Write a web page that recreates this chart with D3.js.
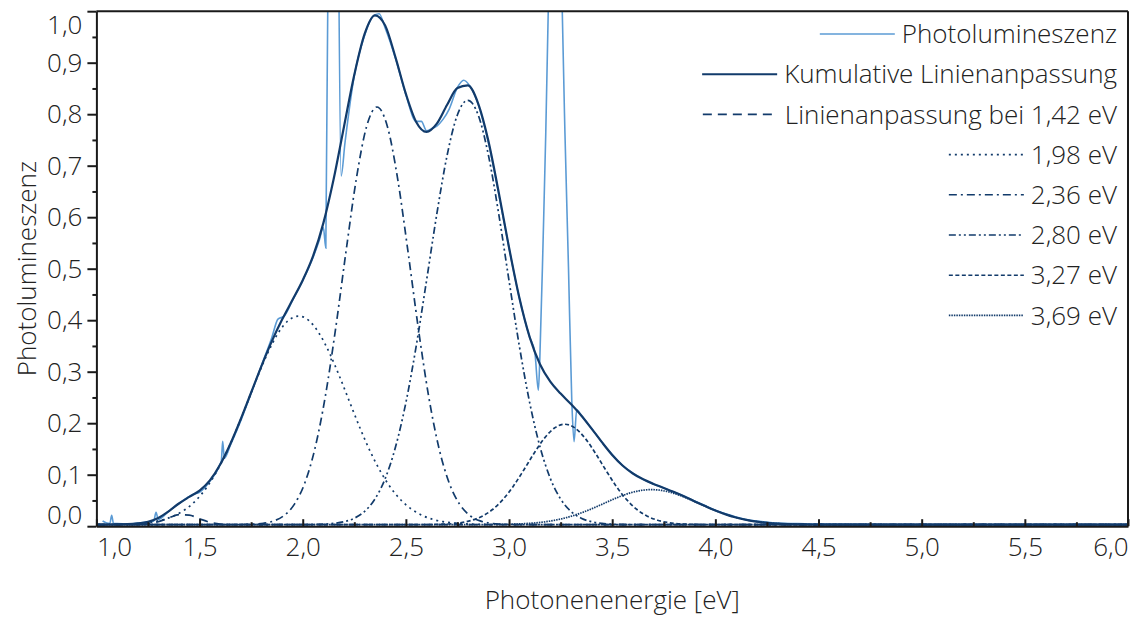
<!DOCTYPE html>
<html><head><meta charset="utf-8">
<script src="https://cdn.jsdelivr.net/npm/d3@7"></script>
<style>
html,body{margin:0;padding:0;background:#fff;}
svg text{font-family:"Open Sans","Segoe UI",sans-serif;font-weight:300;fill:#222;}
</style></head><body>
<svg id="chart" width="1134" height="617"></svg>
<script>
// ---------- data ----------
const xTicks = [1.0, 1.5, 2.0, 2.5, 3.0, 3.5, 4.0, 4.5, 5.0, 5.5, 6.0];
const xTickLabels = ["1,0","1,5","2,0","2,5","3,0","3,5","4,0","4,5","5,0","5,5","6,0"];
const xMinorTicks = [1.25, 1.75, 2.25, 2.75, 3.25, 3.75, 4.25, 4.75, 5.25, 5.75];
const yTicks = [0.0, 0.1, 0.2, 0.3, 0.4, 0.5, 0.6, 0.7, 0.8, 0.9, 1.0];
const yTickLabels = ["0,0","0,1","0,2","0,3","0,4","0,5","0,6","0,7","0,8","0,9","1,0"];
const yMinorTicks = [0.05, 0.15, 0.25, 0.35, 0.45, 0.55, 0.65, 0.75, 0.85, 0.95];
const xTitle = "Photonenenergie [eV]";
const yTitle = "Photolumineszenz";
const legendLabels = ["Photolumineszenz", "Kumulative Linienanpassung", "Linienanpassung bei 1,42 eV",
  "1,98 eV", "2,36 eV", "2,80 eV", "3,27 eV", "3,69 eV"];

// measured photoluminescence [eV, intensity]
const photolumineszenz = [[1.03,0.010],[1.05,0.006],[1.065,0.005],[1.074,0.021],[1.083,0.005],[1.10,0.005],[1.15,0.004],[1.20,0.006],[1.25,0.008],[1.278,0.010],[1.289,0.027],[1.30,0.013],[1.35,0.029],[1.40,0.044],[1.45,0.058],[1.47,0.062],[1.50,0.066],[1.55,0.087],[1.60,0.121],[1.606,0.128],[1.612,0.165],[1.62,0.132],[1.65,0.158],[1.70,0.205],[1.75,0.258],[1.80,0.312],[1.85,0.366],[1.88,0.402],[1.91,0.408],[1.95,0.438],[2.00,0.477],[2.05,0.522],[2.08,0.555],[2.10,0.58],[2.112,0.54],[2.13,1.5],[2.147,1.7],[2.165,1.5],[2.186,0.68],[2.205,0.745],[2.25,0.875],[2.30,0.953],[2.34,0.99],[2.37,0.995],[2.40,0.967],[2.45,0.908],[2.50,0.838],[2.55,0.786],[2.575,0.786],[2.60,0.768],[2.625,0.772],[2.65,0.777],[2.68,0.79],[2.71,0.81],[2.75,0.852],[2.78,0.866],[2.81,0.855],[2.85,0.82],[2.90,0.745],[2.95,0.645],[3.00,0.54],[3.05,0.443],[3.10,0.367],[3.125,0.338],[3.142,0.264],[3.149,0.322],[3.166,0.569],[3.178,0.763],[3.19,1.0],[3.21,1.5],[3.24,1.5],[3.258,1.0],[3.271,0.763],[3.288,0.504],[3.304,0.245],[3.315,0.164],[3.328,0.226],[3.35,0.215],[3.40,0.19],[3.45,0.163],[3.50,0.139],[3.55,0.118],[3.60,0.103],[3.65,0.091],[3.70,0.082],[3.75,0.074],[3.80,0.066],[3.85,0.058],[3.90,0.049],[3.95,0.040],[4.00,0.031],[4.05,0.024],[4.10,0.018],[4.15,0.013],[4.20,0.010],[4.25,0.008],[4.30,0.006],[4.40,0.005],[4.50,0.004],[5.00,0.003],[6.00,0.003]];

// cumulative fit
const kumulativ = [[1.00,0.0031],[1.05,0.0032],[1.10,0.0035],[1.15,0.0040],[1.20,0.0054],[1.25,0.0085],[1.30,0.0159],[1.35,0.0288],[1.40,0.0441],[1.45,0.0569],[1.50,0.0691],[1.55,0.0889],[1.60,0.1197],[1.65,0.1606],[1.70,0.2083],[1.75,0.2596],[1.80,0.3109],[1.85,0.3589],[1.90,0.4012],[1.95,0.4391],[2.00,0.4775],[2.05,0.5243],[2.10,0.5885],[2.15,0.6742],[2.20,0.7757],[2.25,0.8765],[2.30,0.956],[2.35,0.992],[2.40,0.972],[2.45,0.9099],[2.50,0.8395],[2.55,0.7850],[2.60,0.7656],[2.65,0.7817],[2.70,0.8184],[2.75,0.8507],[2.80,0.8559],[2.85,0.8212],[2.90,0.7480],[2.95,0.6482],[3.00,0.5411],[3.05,0.4436],[3.10,0.3672],[3.15,0.3145],[3.20,0.2806],[3.25,0.2575],[3.30,0.2372],[3.35,0.2150],[3.40,0.1895],[3.45,0.1632],[3.50,0.1384],[3.55,0.1179],[3.60,0.1024],[3.65,0.0910],[3.70,0.0821],[3.75,0.0743],[3.80,0.0662],[3.85,0.0575],[3.90,0.0482],[3.95,0.0391],[4.00,0.0304],[4.05,0.0230],[4.10,0.0169],[4.15,0.0122],[4.20,0.0088],[4.25,0.0065],[4.30,0.0050],[4.35,0.0041],[4.40,0.0036],[4.45,0.0033],[4.50,0.0031],[6.00,0.0030]];

// single peak fits
const fit142 = [[1.00,0.003],[1.15,0.003],[1.20,0.0033],[1.25,0.0045],[1.30,0.0086],[1.35,0.0159],[1.40,0.0223],[1.45,0.0215],[1.50,0.0143],[1.55,0.0075],[1.60,0.0041],[1.65,0.0032],[1.70,0.003],[6.00,0.003]];
const fit198 = [[1.00,0.003],[1.08,0.0034],[1.13,0.0038],[1.18,0.0046],[1.23,0.0061],[1.28,0.0088],[1.33,0.0133],[1.38,0.0208],[1.43,0.0323],[1.48,0.0492],[1.53,0.0728],[1.58,0.1040],[1.63,0.1428],[1.68,0.1884],[1.73,0.2384],[1.78,0.2892],[1.83,0.3361],[1.88,0.3743],[1.93,0.3993],[1.98,0.408],[2.03,0.3993],[2.08,0.3743],[2.13,0.3361],[2.18,0.2892],[2.23,0.2384],[2.28,0.1884],[2.33,0.1428],[2.38,0.1040],[2.43,0.0728],[2.48,0.0492],[2.53,0.0323],[2.58,0.0208],[2.63,0.0133],[2.68,0.0088],[2.73,0.0061],[2.78,0.0046],[2.83,0.0038],[2.88,0.0034],[3.00,0.003],[6.00,0.003]];
const fit236 = [[1.00,0.003],[1.66,0.003],[1.71,0.0033],[1.76,0.0039],[1.81,0.0057],[1.86,0.0103],[1.91,0.0209],[1.96,0.0429],[2.01,0.0838],[2.06,0.1521],[2.11,0.2532],[2.16,0.3851],[2.21,0.5340],[2.26,0.6749],[2.31,0.7767],[2.36,0.814],[2.41,0.7767],[2.46,0.6749],[2.51,0.5340],[2.56,0.3851],[2.61,0.2532],[2.66,0.1521],[2.71,0.0838],[2.76,0.0429],[2.81,0.0209],[2.86,0.0103],[2.91,0.0057],[2.96,0.0039],[3.01,0.0033],[3.06,0.003],[6.00,0.003]];
const fit280 = [[1.00,0.003],[2.00,0.003],[2.05,0.0033],[2.10,0.0039],[2.15,0.0054],[2.20,0.0086],[2.25,0.0155],[2.30,0.0288],[2.35,0.0528],[2.40,0.0928],[2.45,0.1541],[2.50,0.2399],[2.55,0.3497],[2.60,0.4766],[2.65,0.6064],[2.70,0.7205],[2.75,0.7990],[2.80,0.827],[2.85,0.7990],[2.90,0.7205],[2.95,0.6064],[3.00,0.4766],[3.05,0.3497],[3.10,0.2399],[3.15,0.1541],[3.20,0.0928],[3.25,0.0528],[3.30,0.0288],[3.35,0.0155],[3.40,0.0086],[3.45,0.0054],[3.50,0.0039],[3.55,0.0033],[3.60,0.003],[6.00,0.003]];
const fit327 = [[1.00,0.003],[2.57,0.003],[2.62,0.0033],[2.67,0.0038],[2.72,0.0048],[2.77,0.0071],[2.82,0.0116],[2.87,0.0195],[2.92,0.0324],[2.97,0.0516],[3.02,0.0773],[3.07,0.1082],[3.12,0.1408],[3.17,0.1701],[3.22,0.1906],[3.27,0.198],[3.32,0.1906],[3.37,0.1701],[3.42,0.1408],[3.47,0.1082],[3.52,0.0773],[3.57,0.0516],[3.62,0.0324],[3.67,0.0195],[3.72,0.0116],[3.77,0.0071],[3.82,0.0048],[3.87,0.0038],[3.92,0.0033],[3.97,0.003],[6.00,0.003]];
const fit369 = [[1.00,0.003],[2.80,0.003],[2.89,0.0032],[2.94,0.0033],[2.99,0.0037],[3.04,0.0043],[3.09,0.0053],[3.14,0.0069],[3.19,0.0094],[3.24,0.0130],[3.29,0.0180],[3.34,0.0244],[3.39,0.0320],[3.44,0.0407],[3.49,0.0496],[3.54,0.0580],[3.59,0.0649],[3.64,0.0694],[3.69,0.071],[3.74,0.0694],[3.79,0.0649],[3.84,0.0580],[3.89,0.0496],[3.94,0.0407],[3.99,0.0320],[4.04,0.0244],[4.09,0.0180],[4.14,0.0130],[4.19,0.0094],[4.24,0.0069],[4.29,0.0053],[4.34,0.0043],[4.39,0.0037],[4.44,0.0033],[4.49,0.0032],[4.60,0.003],[6.00,0.003]];

// ---------- styles ----------
const plColor = "#5b9bd5";
const fitColor = "#123b6b";
const fitSeries = [fit142, fit198, fit236, fit280, fit327, fit369];
const fitDash = ["9,6", "2,4", "8,4,2,4", "7,3,2,3,2,3", "4,2.5", "1.5,1"];

// ---------- layout ----------
const W = 1134, H = 617;
const L = 96.4, R = 1128, T = 11.2, B = 526.2;
const svg = d3.select("#chart");
const x = d3.scaleLinear().domain([1, 6]).range([L, R]);
const y = d3.scaleLinear().domain([0, 1]).range([B, T]);
const FS = 26;

svg.append("defs").append("clipPath").attr("id", "clip")
  .append("rect").attr("x", L).attr("y", T).attr("width", R - L).attr("height", B - T);

const plot = svg.append("g").attr("clip-path", "url(#clip)");
const line = d3.line().x(d => x(d[0])).y(d => y(d[1])).curve(d3.curveMonotoneX);

plot.append("path").datum(photolumineszenz).attr("d", line)
  .attr("fill", "none").attr("stroke", plColor).attr("stroke-width", 1.6);

fitSeries.forEach((s, i) => {
  plot.append("path").datum(s).attr("d", line)
    .attr("fill", "none").attr("stroke", fitColor).attr("stroke-width", 1.7)
    .attr("stroke-dasharray", fitDash[i]);
});
plot.append("path").datum(kumulativ).attr("d", line)
  .attr("fill", "none").attr("stroke", fitColor).attr("stroke-width", 2.2);

// ---------- axes ----------
const axisColor = "#1a1a1a";
const gx = svg.append("g").attr("transform", `translate(0,${B})`)
  .call(d3.axisBottom(x).tickValues(xTicks).tickSize(-7).tickSizeOuter(0)
    .tickFormat((d, i) => xTickLabels[i]));
svg.append("g").attr("transform", `translate(0,${B})`)
  .call(d3.axisBottom(x).tickValues(xMinorTicks).tickSize(-4).tickSizeOuter(0).tickFormat(""))
  .call(g => g.select(".domain").remove());
gx.selectAll("text").attr("y", 30).attr("dy", 0).style("font-size", FS + "px");
gx.selectAll(".tick").filter((d, i) => i === 0).select("text").attr("text-anchor", "start");
gx.selectAll(".tick").filter((d, i) => i === xTicks.length - 1).select("text").attr("text-anchor", "end");

const gy = svg.append("g").attr("transform", `translate(${L},0)`)
  .call(d3.axisLeft(y).tickValues(yTicks).tickSize(9).tickPadding(5).tickSizeOuter(0)
    .tickFormat((d, i) => yTickLabels[i]));
svg.append("g").attr("transform", `translate(${L},0)`)
  .call(d3.axisLeft(y).tickValues(yMinorTicks).tickSize(4).tickSizeOuter(0).tickFormat(""))
  .call(g => g.select(".domain").remove());
gy.selectAll("text").style("font-size", FS + "px");
gy.selectAll(".tick").filter((d, i) => i === 0).select("text").attr("dy", "-0.1em");
gy.selectAll(".tick").filter((d, i) => i === yTicks.length - 1).select("text").attr("dy", "0.84em");

svg.selectAll(".domain, .tick line").attr("stroke", axisColor).attr("stroke-width", 2);
svg.selectAll(".tick text").attr("fill", "#222");

// frame top & right
svg.append("line").attr("x1", L).attr("x2", R).attr("y1", T).attr("y2", T)
  .attr("stroke", axisColor).attr("stroke-width", 2);
svg.append("line").attr("x1", R).attr("x2", R).attr("y1", T).attr("y2", B)
  .attr("stroke", axisColor).attr("stroke-width", 2);

// titles
svg.append("text").attr("x", (L + R) / 2).attr("y", 609).attr("text-anchor", "middle")
  .style("font-size", FS + "px").text(xTitle);
svg.append("text").attr("transform", `translate(36,${(T + B) / 2}) rotate(-90)`)
  .attr("text-anchor", "middle").style("font-size", FS + "px").text(yTitle);

// ---------- legend ----------
const legStyles = [
  {color: plColor, dash: null, w: 1.6},
  {color: fitColor, dash: null, w: 2},
].concat(fitDash.map(d => ({color: fitColor, dash: d, w: 1.6})));
const leg = svg.append("g");
legendLabels.forEach((lab, i) => {
  const cy = 34 + 40.2 * i;
  const t = leg.append("text").attr("x", 1117).attr("y", cy).attr("dy", "0.35em")
    .attr("text-anchor", "end").style("font-size", FS + "px").text(lab);
  const tw = t.node().getComputedTextLength();
  const x2 = 1117 - tw - 7, x1 = x2 - 75;
  const ln = leg.append("line").attr("x1", x1).attr("x2", x2).attr("y1", cy).attr("y2", cy)
    .attr("stroke", legStyles[i].color).attr("stroke-width", legStyles[i].w);
  if (legStyles[i].dash) ln.attr("stroke-dasharray", legStyles[i].dash);
});
</script>
</body></html>
